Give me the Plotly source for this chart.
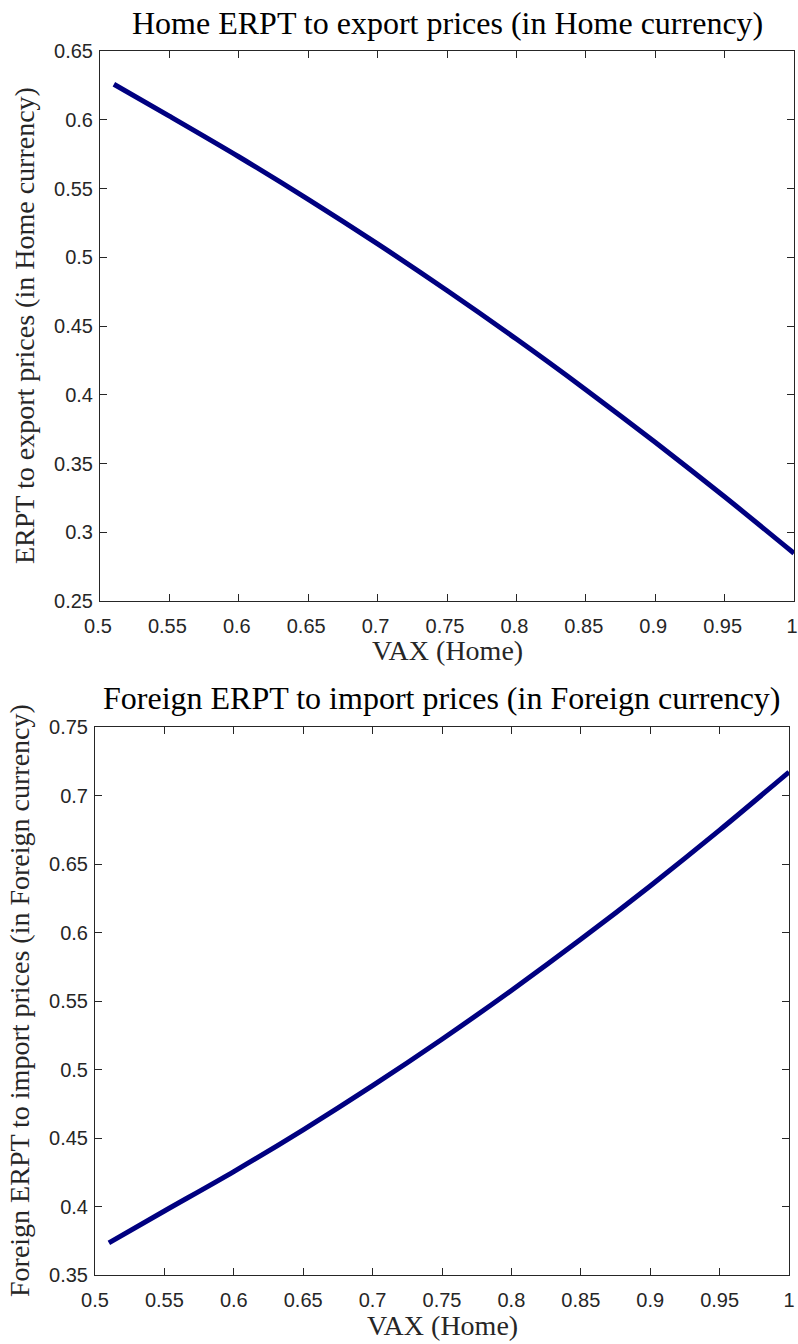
import plotly.graph_objects as go

# VAX share of Home exports
vax = [0.51, 0.55, 0.60, 0.65, 0.70, 0.75, 0.80, 0.85, 0.90, 0.95, 1.00]

# Home ERPT to export prices (Home currency)
erpt_home_export = [0.6258, 0.6026, 0.5731, 0.5421, 0.5097, 0.4758, 0.4405, 0.4037, 0.3655, 0.3258, 0.2847]

# Foreign ERPT to import prices (Foreign currency)
erpt_foreign_import = [0.3735, 0.3967, 0.4255, 0.4560, 0.4882, 0.5221, 0.5577, 0.5950, 0.6340, 0.6747, 0.7171]

x_ticks = [0.5, 0.55, 0.6, 0.65, 0.7, 0.75, 0.8, 0.85, 0.9, 0.95, 1.0]
x_tick_text = ["0.5", "0.55", "0.6", "0.65", "0.7", "0.75", "0.8", "0.85", "0.9", "0.95", "1"]
y1_ticks = [0.25, 0.3, 0.35, 0.4, 0.45, 0.5, 0.55, 0.6, 0.65]
y1_tick_text = ["0.25", "0.3", "0.35", "0.4", "0.45", "0.5", "0.55", "0.6", "0.65"]
y2_ticks = [0.35, 0.4, 0.45, 0.5, 0.55, 0.6, 0.65, 0.7, 0.75]
y2_tick_text = ["0.35", "0.4", "0.45", "0.5", "0.55", "0.6", "0.65", "0.7", "0.75"]

W, H = 798, 1344
LINE = "#000080"
AX = "#262626"
SERIF = "Liberation Serif, Times New Roman, serif"
SANS = "Liberation Sans, Arial, Helvetica, sans-serif"

fig = go.Figure()
fig.add_trace(go.Scatter(x=vax, y=erpt_home_export, mode="lines",
                         line=dict(color=LINE, width=5, shape="spline", smoothing=0.8),
                         xaxis="x", yaxis="y", showlegend=False))
fig.add_trace(go.Scatter(x=vax, y=erpt_foreign_import, mode="lines",
                         line=dict(color=LINE, width=5, shape="spline", smoothing=0.8),
                         xaxis="x2", yaxis="y2", showlegend=False))


def px_dom(a, b, total):
    return [a / total, b / total]


def axis_common(standoff, shift=0):
    return dict(showline=True, mirror="allticks", linecolor=AX, linewidth=1,
                ticks="inside", ticklen=7, tickwidth=1, tickcolor=AX,
                showgrid=False, zeroline=False, ticklabelstandoff=standoff,
                ticklabelshift=shift, ticklabeloverflow="allow",
                tickfont=dict(family=SANS, size=20, color=AX))


fig.update_layout(
    width=W, height=H,
    margin=dict(l=0, r=0, t=0, b=0, autoexpand=False),
    paper_bgcolor="white", plot_bgcolor="white",
    xaxis=dict(domain=px_dom(100, 794, W), range=[0.5, 1.0], anchor="y",
               tickvals=x_ticks, ticktext=x_tick_text, **axis_common(7, -2)),
    yaxis=dict(domain=[1 - 601 / H, 1 - 51 / H], range=[0.25, 0.65], anchor="x",
               tickvals=y1_ticks, ticktext=y1_tick_text, **axis_common(2)),
    xaxis2=dict(domain=px_dom(95, 789, W), range=[0.5, 1.0], anchor="y2",
                tickvals=x_ticks, ticktext=x_tick_text, **axis_common(7)),
    yaxis2=dict(domain=[1 - 1275 / H, 1 - 727 / H], range=[0.35, 0.75], anchor="x2",
                tickvals=y2_ticks, ticktext=y2_tick_text, **axis_common(2)),
)

TITLE_SIZE = 32
LABEL_SIZE = 28

annotations = [
    # top panel
    dict(text="Home ERPT to export prices (in Home currency)",
         x=0.5, xref="x domain", y=1 - 43 / H, yref="paper",
         xanchor="center", yanchor="bottom",
         font=dict(family=SERIF, size=TITLE_SIZE, color="black"), showarrow=False),
    dict(text="VAX (Home)",
         x=0.5, xref="x domain", y=1 - 633 / H, yref="paper",
         xanchor="center", yanchor="top",
         font=dict(family=SERIF, size=LABEL_SIZE, color=AX), showarrow=False),
    dict(text="ERPT to export prices (in Home currency)",
         x=24 / W, xref="paper", y=0.5, yref="y domain",
         xanchor="center", yanchor="middle", textangle=-90,
         font=dict(family=SERIF, size=LABEL_SIZE, color=AX), showarrow=False),
    # bottom panel
    dict(text="Foreign ERPT to import prices (in Foreign currency)",
         x=0.5, xref="x2 domain", y=1 - 718 / H, yref="paper",
         xanchor="center", yanchor="bottom",
         font=dict(family=SERIF, size=TITLE_SIZE, color="black"), showarrow=False),
    dict(text="VAX (Home)",
         x=0.5, xref="x2 domain", y=1 - 1308 / H, yref="paper",
         xanchor="center", yanchor="top",
         font=dict(family=SERIF, size=LABEL_SIZE, color=AX), showarrow=False),
    dict(text="Foreign ERPT to import prices (in Foreign currency)",
         x=19 / W, xref="paper", y=0.5, yref="y2 domain",
         xanchor="center", yanchor="middle", textangle=-90,
         font=dict(family=SERIF, size=LABEL_SIZE, color=AX), showarrow=False),
]
fig.update_layout(annotations=annotations)

fig.write_html("out.html")
